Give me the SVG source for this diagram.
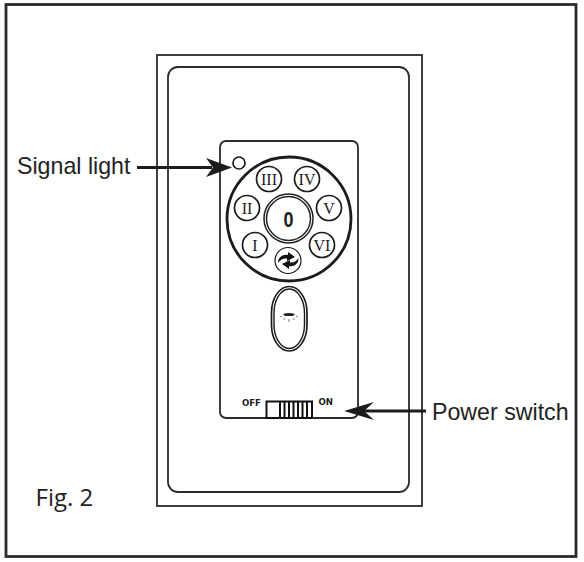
<svg xmlns="http://www.w3.org/2000/svg" width="584" height="562" viewBox="0 0 584 562">
<style>
.ln{fill:none;stroke:#2b2b2b}
.btn{fill:#fff;stroke:#1c1c1c;stroke-width:1.700}
.rn{font-family:"Liberation Serif",serif;font-size:16px;fill:#222;text-anchor:middle}
.lbl{font-family:"Liberation Sans",Arial,sans-serif;font-size:23.2px;fill:#222}
.sw{font-family:"DejaVu Sans Condensed","DejaVu Sans",sans-serif;font-size:9.500px;font-weight:bold;fill:#222}
.ar{fill:#1c1c1c}
</style>
<rect width="584" height="562" fill="#fff"/>
<g id="frame"><rect class="ln" x="6" y="4.500" width="570" height="552" stroke-width="2.800"/></g>
<g id="wall-plate">
<rect class="ln" x="157" y="55" width="265" height="451" stroke-width="1.800"/>
<rect class="ln" x="168" y="67" width="241" height="425" rx="10" stroke-width="1.800"/>
</g>
<g id="remote-panel"><rect class="ln" x="220" y="141" width="138" height="277" rx="6" stroke-width="1.800"/></g>
<g id="signal-led"><circle class="btn" cx="239" cy="163" r="6"/></g>
<g id="dial">
<circle cx="289" cy="219" r="62" fill="#fff" stroke="#1c1c1c" stroke-width="2.800"/>
<circle cx="288.500" cy="218.500" r="24.500" fill="#fff" stroke="#222" stroke-width="1.500"/>
<circle cx="288.500" cy="218.500" r="22" fill="#fff" stroke="#222" stroke-width="1.500"/>
<text transform="translate(288.500 226.500) scale(0.9 1.1)" font-family="'Liberation Sans',sans-serif" font-size="20" font-weight="bold" fill="#222" text-anchor="middle">0</text>
</g>
<g id="btn-3"><circle class="btn" cx="269" cy="179" r="12.500"/><text class="rn" x="269" y="184.500">III</text></g>
<g id="btn-4"><circle class="btn" cx="307" cy="179" r="12.500"/><text class="rn" x="307" y="184.500">IV</text></g>
<g id="btn-2"><circle class="btn" cx="247" cy="208" r="12.500"/><text class="rn" x="247" y="213.500">II</text></g>
<g id="btn-5"><circle class="btn" cx="329" cy="208" r="12.500"/><text class="rn" x="329" y="213.500">V</text></g>
<g id="btn-1"><circle class="btn" cx="255" cy="245" r="12.500"/><text class="rn" x="255" y="250.500">I</text></g>
<g id="btn-6"><circle class="btn" cx="322" cy="245" r="12.500"/><text class="rn" x="322" y="250.500">VI</text></g>
<g id="btn-reverse">
<circle cx="288" cy="260.500" r="13" fill="#fff" stroke="#1c1c1c" stroke-width="1.200"/>
<path d="M278 263 C278 257 283 254 288 255 L288 252 L295 257 L287 261 L287 258.500 C283 258 280 260 278 263Z" fill="#111"/>
<path d="M298.500 258 C298.500 264 294 267 289 266 L289 269 L282 264 L290 260 L290 262.500 C294 263 296.500 261 298.500 258Z" fill="#111"/>
</g>
<g id="light-button">
<rect x="271.500" y="286.500" width="35.500" height="64.500" rx="17.700" ry="26" fill="#fff" stroke="#1c1c1c" stroke-width="1.700"/>
<rect x="274" y="289" width="30.500" height="59.500" rx="15.200" ry="24" fill="none" stroke="#1c1c1c" stroke-width="1.400"/>
<path d="M283 314 Q289 312 295 314 L293 316 H285Z" fill="#222"/>
<path d="M280 317 L282 316 M283.500 320 L285 318 M289 322 V319 M294.500 320 L293 318 M298 317 L296 316" stroke="#444" stroke-width="0.700" fill="none"/>
</g>
<g id="power-slider">
<rect x="266.500" y="401.500" width="45.500" height="16.500" fill="#fff" stroke="#111" stroke-width="2"/>
<path d="M280 402V418 M284.500 402V418 M289 402V418 M293.500 402V418 M298 402V418 M302.500 402V418 M307 402V418" stroke="#111" stroke-width="2" fill="none"/>
<text class="sw" x="242" y="405.500">OFF</text>
<text class="sw" x="318.500" y="405">ON</text>
</g>
<g id="connectors">
<path d="M137 167.500H212" stroke="#1c1c1c" stroke-width="3" fill="none"/>
<path class="ar" d="M232 167.500L206 158L213 167.500L206 177Z"/>
<path d="M426 411H358" stroke="#1c1c1c" stroke-width="3" fill="none"/>
<path class="ar" d="M344 411L374 402L364 411L374 420Z"/>
</g>
<g id="labels">
<text class="lbl" x="17" y="174">Signal light</text>
<text class="lbl" x="432" y="420">Power switch</text>
<text x="35.500" y="506" font-family="'Open Sans',sans-serif" font-size="24" fill="#222">Fig. 2</text>
</g>
</svg>
